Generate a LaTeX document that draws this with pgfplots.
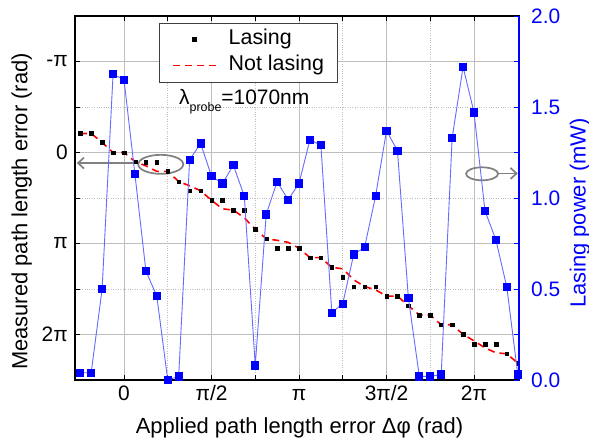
\documentclass[border=0pt]{standalone}
\usepackage{fontspec}
\setmainfont{Liberation Sans}
\usepackage{pgfplots}
\usepackage{pgfplotstable}
\pgfplotsset{compat=1.18}
\usetikzlibrary{arrows.meta}

\definecolor{gridgray}{RGB}{190,190,190}
\definecolor{lineblue}{RGB}{105,105,255}
\definecolor{annogray}{RGB}{128,128,128}

% x and measured/not-lasing phase in units of pi, power in mW
\pgfplotstableread{
x       meas   notl   power
-0.25   -0.209 -0.209 0.04
-0.1875 -0.209 -0.209 0.04
-0.125  -0.110 -0.110 0.50
-0.0625  0.000  0.000 1.68
 0.0     0.000  0.000 1.65
 0.0625  0.099  0.099 1.13
 0.125   0.105  0.146 0.60
 0.1875  0.105  0.207 0.46
 0.25    0.204  0.207 0.00
 0.3125  0.319  0.319 0.02
 0.375   0.421  0.366 1.21
 0.4375  0.420  0.420 1.30
 0.5     0.525  0.525 1.12
 0.5625  0.525  0.619 1.08
 0.625   0.633  0.633 1.18
 0.6875  0.633  0.718 1.01
 0.75    0.842  0.842 0.08
 0.8125  0.948  0.948 0.91
 0.875   1.051  0.965 1.09
 0.9375  1.051  0.987 0.99
 1.0     1.051  1.051 1.08
 1.0625  1.155  1.155 1.32
 1.125   1.155  1.155 1.29
 1.1875  1.262  1.262 0.37
 1.25    1.368  1.278 0.42
 1.3125  1.473  1.399 0.69
 1.375   1.473  1.473 0.73
 1.4375  1.473  1.509 1.01
 1.5     1.578  1.578 1.37
 1.5625  1.578  1.578 1.26
 1.625   1.685  1.685 0.45
 1.6875  1.786  1.786 0.02
 1.75    1.786  1.786 0.02
 1.8125  1.893  1.893 0.03
 1.875   1.893  1.893 1.33
 1.9375  1.998  1.998 1.72
 2.0     2.104  2.070 1.47
 2.0625  2.104  2.147 0.93
 2.125   2.104  2.201 0.77
 2.1875  2.212  2.212 0.51
 2.25    2.314  2.314 0.03
}\phasedata

\begin{document}
\begin{tikzpicture}
\begin{axis}[
  at={(0,0)}, anchor=south west,
  scale only axis, width=444bp, height=364bp,
  xmin=-0.28, xmax=2.257,
  ymin=-1.5, ymax=2.5, y dir=reverse,
  xtick={0,0.5,1,1.5,2}, xticklabels={0,π/2,π,3π/2,2π},
  minor xtick={0.25,0.75,1.25,1.75},
  ytick={-1,0,1,2}, yticklabels={-π,0,π,2π},
  minor ytick={-0.5,0.5,1.5},
  ytick pos=left,
  tick align=inside,
  grid=both,
  major grid style={gridgray, line width=1bp},
  minor grid style={gridgray, dotted, line width=1bp},
  tick style={black, line width=0.9bp},
  major tick length=5bp, minor tick length=5bp,
  axis line style={line width=1.1bp},
  tick label style={font=\fontsize{21}{25}\selectfont},
  xticklabel style={anchor=base, yshift=-20bp, inner sep=0pt},
  yticklabel style={anchor=east, xshift=-7bp, inner sep=0pt},
  xlabel={Applied path length error Δφ (rad)},
  xlabel style={at={(axis description cs:0.5056,0)}, anchor=base, yshift=-53bp, inner sep=0pt, font=\fontsize{22}{26}\selectfont},
  ylabel={Measured path length error (rad)},
  ylabel style={at={(axis description cs:-0.107,0.4629)}, anchor=base, inner sep=0pt, font=\fontsize{22}{26}\selectfont},
  legend style={at={(axis description cs:0.189,0.981)}, anchor=north west,
    draw=black!75, fill=white,
    inner xsep=13bp, inner ysep=6.3bp, row sep=6bp, column sep=12bp,
    font=\fontsize{21.5}{26}\selectfont,
    nodes={inner sep=0pt, text height=15.4bp, text depth=4.6bp}},
  legend cell align=left,
  reverse legend,
  legend image code/.code={\draw[mark repeat=2,mark phase=2,#1] plot coordinates {(0bp,0bp) (21.5bp,0bp) (43bp,0bp)};},
  clip=false,
]
\addplot[red, dash pattern=on 7bp off 5bp, line width=1.6bp] table[x=x, y=notl] {\phasedata};
\addplot[only marks, mark=square*, mark size=1.8bp, black] table[x=x, y=meas] {\phasedata};
\legend{Not lasing, Lasing}

\node[anchor=base west, inner sep=0pt, font=\fontsize{21}{25}\selectfont] at (axis cs:0.314,-0.524)
  {λ\raisebox{-7bp}{\fontsize{12.5}{13}\selectfont probe}=1070nm};

\draw[annogray, line width=1.7bp] (axis cs:0.210,0.130) ellipse [x radius=22.5bp, y radius=9.5bp];
\draw[annogray, line width=1.7bp, -{Straight Barb[length=6bp, width=11bp]}] (axis cs:0.082,0.116) -- (axis cs:-0.270,0.116);
\draw[annogray, line width=1.7bp] (axis cs:2.046,0.234) ellipse [x radius=16bp, y radius=6.5bp];
\draw[annogray, line width=1.7bp, -{Straight Barb[length=6bp, width=11bp]}] (axis cs:2.137,0.230) -- (axis cs:2.250,0.230);
\end{axis}

\begin{axis}[
  at={(0,0)}, anchor=south west,
  scale only axis, width=444bp, height=364bp,
  xmin=-0.28, xmax=2.257, ymin=0, ymax=2,
  axis x line=none, axis y line*=right,
  tick align=inside,
  ytick={0,0.5,1,1.5,2}, yticklabels={0.0,0.5,1.0,1.5,2.0},
  minor ytick={0.25,0.75,1.25,1.75},
  major tick length=5bp, minor tick length=5bp,
  y axis line style={blue, line width=1.1bp},
  ytick style={blue, line width=0.9bp},
  yticklabel style={blue, anchor=west, xshift=12bp, inner sep=0pt, font=\fontsize{21}{25}\selectfont},
  ylabel={Lasing power (mW)},
  ylabel style={blue, at={(axis description cs:1.1498,0.4588)}, anchor=base, inner sep=0pt, font=\fontsize{22}{26}\selectfont},
  clip=false,
]
\addplot[lineblue, line width=0.9bp, mark=square*, mark size=3.6bp, mark options={blue, fill=blue}] table[x=x, y=power] {\phasedata};
\end{axis}

\pgfresetboundingbox
\path[use as bounding box] (-75bp,-62bp) rectangle (514bp,380bp);
\end{tikzpicture}
\end{document}
